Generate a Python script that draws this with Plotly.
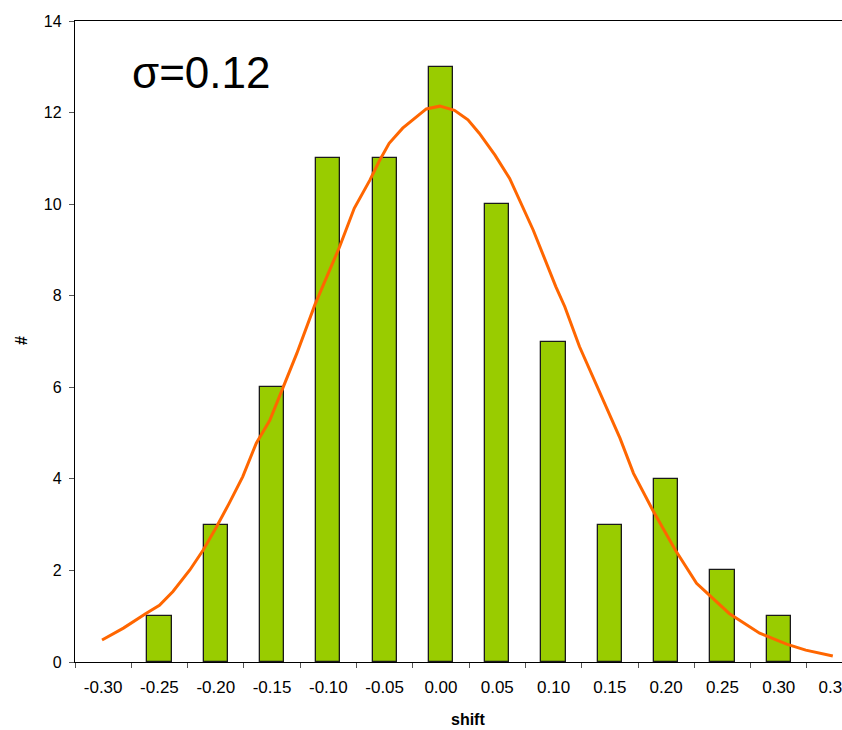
import plotly.graph_objects as go

# ---- data ----
categories = ["-0.30", "-0.25", "-0.20", "-0.15", "-0.10", "-0.05", "0.00",
              "0.05", "0.10", "0.15", "0.20", "0.25", "0.30", "0.35"]
counts = [0, 1, 3, 6, 11, 11, 13, 10, 7, 3, 4, 2, 1, 0]

# fitted curve (shift, count)
curve_shift = [-0.301, -0.282, -0.262, -0.250, -0.238, -0.223, -0.211, -0.200,
               -0.188, -0.176, -0.164, -0.152, -0.140, -0.128, -0.112, -0.090,
               -0.077, -0.063, -0.055, -0.046, -0.034, -0.013, -0.001, 0.012,
               0.024, 0.034, 0.048, 0.061, 0.082, 0.102, 0.110, 0.123, 0.159,
               0.171, 0.188, 0.208, 0.227, 0.256, 0.283, 0.307, 0.324, 0.348]
curve_count = [0.48, 0.74, 1.06, 1.24, 1.54, 2.01, 2.45, 2.92,
               3.47, 4.05, 4.78, 5.28, 6.01, 6.74, 7.80, 9.07,
               9.91, 10.53, 10.93, 11.33, 11.66, 12.08, 12.14, 12.05,
               11.84, 11.55, 11.07, 10.56, 9.43, 8.20, 7.76, 6.89, 4.89,
               4.12, 3.32, 2.45, 1.72, 1.06, 0.63, 0.39, 0.26, 0.13]

sigma_text = "σ=0.12"
x_title = "shift"
y_title = "#"

# ---- layout geometry ----
W, H = 842, 730
ml, mr, mt, mb = 75, 0, 21, 68
PW, PH = W - ml - mr, H - mt - mb
cat_px = 56.3                      # px per category
step = 0.05
first_center = -0.30
n_visible = PW / cat_px
cat_range = [-0.5, -0.5 + n_visible]
lin_range = [first_center - step / 2, first_center - step / 2 + n_visible * step]

font = "Liberation Sans, Arial, sans-serif"


def px_x(px):
    return (px - ml) / PW


def px_y(py):
    return 1 - (py - mt) / PH


bar_y = [c if c else None for c in counts]

fig = go.Figure()
fig.add_trace(go.Bar(
    x=categories, y=bar_y, width=0.43,
    marker=dict(color="#99CC00", line=dict(color="#1a1a1a", width=1.3)),
    xaxis="x", yaxis="y", showlegend=False,
))
fig.add_trace(go.Scatter(
    x=curve_shift, y=curve_count, mode="lines",
    line=dict(color="#FF6600", width=3),
    xaxis="x2", yaxis="y", showlegend=False,
))

fig.update_layout(
    width=W, height=H,
    margin=dict(l=ml, r=mr, t=mt, b=mb, pad=0, autoexpand=False),
    paper_bgcolor="white", plot_bgcolor="white",
    font=dict(family=font, color="black", size=16),
    bargap=0,
    xaxis=dict(
        type="category", range=cat_range, tickson="boundaries",
        ticks="outside", ticklen=5, tickcolor="#555", tickwidth=1,
        ticklabelstandoff=9,
        showline=True, linecolor="black", linewidth=1.3, mirror=True,
        showgrid=False, zeroline=False, automargin=False,
        tickfont=dict(size=17, family=font),
    ),
    xaxis2=dict(
        overlaying="x", range=lin_range, visible=False, automargin=False,
    ),
    yaxis=dict(
        range=[0, 14], dtick=2, ticks="outside", ticklen=5,
        tickcolor="#555", tickwidth=1, ticklabelstandoff=4,
        showline=True, linecolor="black", linewidth=1.3,
        showgrid=False, zeroline=False, automargin=False,
        tickfont=dict(size=16, family=font),
    ),
    annotations=[
        dict(text=sigma_text, xref="paper", yref="paper",
             x=px_x(130), y=px_y(73),
             xanchor="left", yanchor="middle", showarrow=False,
             font=dict(size=44, family=font, color="black")),
        dict(text="<b>" + x_title + "</b>", xref="paper", yref="paper",
             x=px_x(468), y=px_y(719),
             xanchor="center", yanchor="middle", showarrow=False,
             font=dict(size=16, family=font, color="black")),
        dict(text="<b>" + y_title + "</b>", xref="paper", yref="paper",
             x=px_x(21), y=px_y(341),
             xanchor="center", yanchor="middle", showarrow=False, textangle=-90,
             font=dict(size=16, family=font, color="black")),
    ],
)

fig.write_html(
    "out.html",
    config={"displayModeBar": False},
    post_script="document.body.style.margin='0';document.body.style.overflow='hidden';",
)
